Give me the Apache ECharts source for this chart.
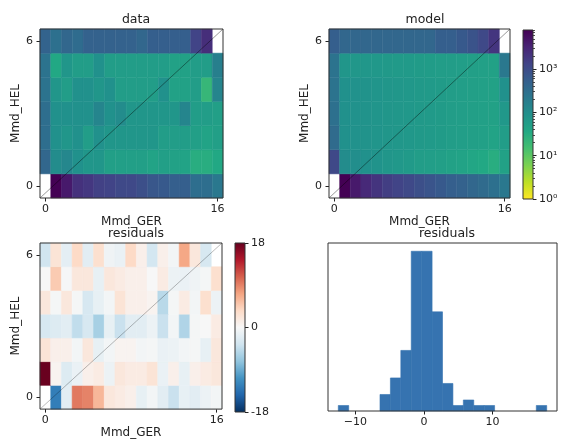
<!DOCTYPE html>
<html>
<head>
<meta charset="utf-8">
<script src="https://cdn.jsdelivr.net/npm/echarts@6/dist/echarts.min.js"></script>
<style>
  html, body { margin: 0; background: #fff; }
  #chart { width: 563px; height: 440px; }
</style>
</head>
<body>
<div id="chart"></div>
<script>
// grid columns (Mmd_GER) and rows (Mmd_HEL)
const cols = [0, 1, 2, 3, 4, 5, 6, 7, 8, 9, 10, 11, 12, 13, 14, 15, 16];
const rows = [0, 1, 2, 3, 4, 5, 6];
const xTicks = [0, 16];
const yTicks = [0, 6];

// observed counts, row 0 first (null = empty cell)
const dataCounts = [
  [null, 8000, 4270, 2280, 1900, 1450, 1330, 1110, 1110, 925, 710, 650, 540, 540, 315, 315, 220],
  [410, 107, 128, 89, 75, 75, 52, 52, 52, 52, 44, 52, 48, 44, 30, 30, 36],
  [315, 89, 75, 89, 57, 89, 75, 75, 75, 75, 75, 57, 57, 57, 52, 44, 52],
  [315, 89, 89, 89, 89, 140, 89, 107, 75, 75, 75, 75, 75, 140, 57, 57, 52],
  [263, 75, 57, 89, 89, 75, 89, 57, 57, 57, 57, 89, 48, 48, 57, 21, 140],
  [263, 36, 75, 57, 57, 89, 57, 57, 57, 57, 57, 57, 48, 48, 57, 57, 168],
  [460, 290, 410, 344, 493, 493, 493, 493, 493, 412, 540, 540, 540, 540, 1330, 2480, null]
];

// model counts
const modelCounts = [
  [null, 8000, 4270, 2800, 2070, 1580, 1330, 1110, 925, 770, 650, 540, 490, 410, 345, 290, 220],
  [1110, 107, 98, 89, 82, 75, 68, 62, 57, 54, 52, 48, 44, 40, 36, 30, 48],
  [345, 89, 85, 82, 78, 75, 71, 68, 65, 62, 60, 57, 54, 52, 50, 44, 57],
  [290, 89, 85, 82, 78, 75, 71, 68, 65, 62, 60, 57, 54, 52, 50, 48, 68],
  [263, 89, 85, 82, 78, 75, 71, 68, 65, 62, 60, 57, 54, 52, 50, 48, 89],
  [263, 75, 72, 70, 68, 66, 64, 62, 60, 58, 57, 55, 54, 52, 50, 48, 220],
  [540, 410, 410, 410, 410, 410, 410, 410, 410, 410, 540, 540, 650, 810, 1110, 2000, null]
];

// residuals
const residuals = [
  [null, -12.5, -2, 9.5, 9, 6, 2, 1.5, 1, -1.5, -0.5, -2, -4, -1.5, -2, -1, -0.5],
  [17.9, 0.5, -2.5, -1.2, 1, 1.5, -1, 2, 1.5, 1.5, 2.5, -1.2, 1, -1.5, 1, 1.5, 2],
  [2.5, 1, 1, -0.5, 2, -1.5, -0.5, 0.5, 0.5, -0.5, -0.3, -1.2, -1, -0.5, -0.3, -1.5, 2],
  [-3, -2.5, -2, -4.5, -3, -6, -1.5, -4, -2, -2, -1, -4, -0.5, -5.5, -0.3, 0, 1.5],
  [2, -0.3, 2, -0.3, -3, -1.5, -0.5, 2.5, 1, 1, 0.5, -5, -0.3, 1.5, -0.5, 3, -1],
  [0, 4.7, -0.2, 2, 2, -1.5, 2, 1.5, 1, 1, 0, 1.5, -1, -1.2, -0.8, -0.3, 3],
  [-3.6, 2.5, -1.8, 3.6, -2, 3, -0.8, -1.2, 3.6, 1, -3.3, 1, -0.5, 7, 2, -3, null]
];

// histogram of residuals
const histEdges = [-12.5, -10.98, -9.46, -7.94, -6.42, -4.9, -3.38, -1.86, -0.34, 1.18, 2.7,
  4.22, 5.74, 7.26, 8.78, 10.3, 11.82, 13.34, 14.86, 16.38, 17.9];
const histCounts = [1, 0, 0, 0, 3, 6, 11, 29, 29, 18, 5, 1, 2, 1, 1, 0, 0, 0, 0, 1];
const histXTicks = [-10, 0, 10];
const histXRange = [-14, 19.4];
const histYMax = 30.5;

// colour bars
const countRange = [1, 8000];
const countMajor = [1, 10, 100, 1000];
const countMinor = [2, 3, 4, 5, 6, 7, 8, 9, 20, 30, 40, 50, 60, 70, 80, 90,
  200, 300, 400, 500, 600, 700, 800, 900, 2000, 3000, 4000, 5000, 6000, 7000, 8000];
const residRange = [-18, 18];
const residTicks = [-18, 0, 18];

const diag = [[-0.5, -0.5], [16.5, 6.5]];

const viridis = ['#440154', '#482475', '#414487', '#355f8d', '#2a788e', '#21918c',
  '#22a884', '#44bf70', '#7ad151', '#bddf26', '#fde725'];
const rdbu = ['#053061', '#2166ac', '#4393c3', '#92c5de', '#d1e5f0', '#f7f7f7',
  '#fddbc7', '#f4a582', '#d6604d', '#b2182b', '#67001f'];

const font = 'DejaVu Sans';
const ink = '#222';
const sup = ['\u2070', '\u00b9', '\u00b2', '\u00b3', '\u2074'];

function cells(matrix, useLog) {
  const out = [];
  rows.forEach(r => cols.forEach(c => {
    const v = matrix[r][c];
    if (v == null) return;
    out.push([c, r, useLog ? Math.log10(v) : v]);
  }));
  return out;
}

function cellItem(params, api) {
  const x = api.value(0), y = api.value(1);
  const p0 = api.coord([x - 0.5, y + 0.5]);
  const p1 = api.coord([x + 0.5, y - 0.5]);
  const color = api.visual('color');
  return {
    type: 'rect',
    shape: { x: p0[0], y: p0[1], width: p1[0] - p0[0], height: p1[1] - p0[1] },
    style: { fill: color, stroke: color, lineWidth: 0.5 }
  };
}

function barItem(colors) {
  return function (params, api) {
    const p0 = api.coord([api.value(0), api.value(3)]);
    const p1 = api.coord([api.value(1), api.value(2)]);
    const stops = colors.slice().reverse().map((c, i) => ({ offset: i / (colors.length - 1), color: c }));
    return {
      type: 'rect',
      shape: { x: p0[0], y: p0[1], width: p1[0] - p0[0], height: p1[1] - p0[1] },
      style: { fill: new echarts.graphic.LinearGradient(0, 0, 0, 1, stops) }
    };
  };
}

function histItem(params, api) {
  if (!api.value(2)) return null;
  const p0 = api.coord([api.value(0), api.value(2)]);
  const p1 = api.coord([api.value(1), 0]);
  return {
    type: 'rect',
    shape: { x: p0[0], y: p0[1], width: p1[0] - p0[0], height: p1[1] - p0[1] },
    style: { fill: '#3673b0', stroke: '#3673b0', lineWidth: 0.6 }
  };
}

const label = { color: ink, fontFamily: font, fontSize: 11 };
const noLine = { show: false, onZero: false };

function heatX(gi) {
  return {
    gridIndex: gi, type: 'value', min: -0.5, max: 16.5,
    name: 'Mmd_GER', nameLocation: 'middle', nameGap: 15,
    nameTextStyle: { color: ink, fontFamily: font, fontSize: 12 },
    axisLine: noLine, splitLine: { show: false },
    axisTick: { customValues: xTicks, length: 3.5, lineStyle: { color: ink } },
    axisLabel: Object.assign({ customValues: xTicks, margin: 6 }, label)
  };
}
function heatY(gi) {
  return {
    gridIndex: gi, type: 'value', min: -0.5, max: 6.5,
    name: 'Mmd_HEL', nameLocation: 'middle', nameGap: 13,
    nameTextStyle: { color: ink, fontFamily: font, fontSize: 12 },
    axisLine: noLine, splitLine: { show: false },
    axisTick: { customValues: yTicks, length: 3.5, lineStyle: { color: ink } },
    axisLabel: Object.assign({ customValues: yTicks, margin: 7 }, label)
  };
}
const hiddenX = gi => ({ gridIndex: gi, type: 'value', min: 0, max: 1, show: false });

const frame = { show: true, z: 10, backgroundColor: 'transparent', borderColor: '#333', borderWidth: 1 };

const diagSeries = (gi, color) => ({
  type: 'line', xAxisIndex: gi, yAxisIndex: gi, data: diag, symbol: 'none', silent: true,
  lineStyle: { color: color, width: 0.9 }, z: 3
});

const title = (text, x, y) => ({
  text: text, left: x, top: y, textAlign: 'center',
  textStyle: { color: ink, fontFamily: font, fontSize: 12.5, fontWeight: 'normal' }
});

const chart = echarts.init(document.getElementById('chart'), null, { renderer: 'canvas' });
chart.setOption({
  animation: false,
  backgroundColor: '#fff',
  title: [
    title('data', 131, 8),
    title('model', 420, 8),
    title('residuals', 131, 222),
    title('residuals', 442, 222)
  ],
  grid: [
    Object.assign({ left: 40, top: 29, width: 183, height: 169 }, frame),
    Object.assign({ left: 329, top: 29, width: 181, height: 169 }, frame),
    Object.assign({ left: 523, top: 30, width: 10, height: 169 }, frame),
    Object.assign({ left: 40, top: 243, width: 182, height: 168 }, frame),
    Object.assign({ left: 235, top: 243, width: 10, height: 169 }, frame),
    Object.assign({ left: 328, top: 243, width: 229, height: 168 }, frame)
  ],
  xAxis: [
    heatX(0), heatX(1), hiddenX(2), heatX(3), hiddenX(4),
    {
      gridIndex: 5, type: 'value', min: histXRange[0], max: histXRange[1],
      axisLine: noLine, splitLine: { show: false },
      axisTick: { customValues: histXTicks, length: 3.5, lineStyle: { color: ink } },
      axisLabel: Object.assign({ customValues: histXTicks, margin: 6,
        formatter: v => String(v).replace('-', '\u2212') }, label)
    }
  ],
  yAxis: [
    heatY(0), heatY(1),
    {
      gridIndex: 2, type: 'log', logBase: 10, min: countRange[0], max: countRange[1], position: 'right', offset: 0,
      axisLine: noLine, splitLine: { show: false },
      axisTick: { customValues: countMajor, length: 3.5, lineStyle: { color: ink } },
      axisLabel: Object.assign({ customValues: countMajor, margin: 6,
        formatter: v => '10' + sup[Math.round(Math.log10(v))] }, label)
    },
    heatY(3),
    {
      gridIndex: 4, type: 'value', min: residRange[0], max: residRange[1], position: 'right',
      axisLine: noLine, splitLine: { show: false },
      axisTick: { customValues: residTicks, length: 3.5, lineStyle: { color: ink } },
      axisLabel: Object.assign({ customValues: residTicks, margin: 6 }, label)
    },
    { gridIndex: 5, type: 'value', min: 0, max: histYMax, show: false },
    {
      gridIndex: 2, type: 'log', logBase: 10, min: countRange[0], max: countRange[1], position: 'right', offset: 0,
      axisLine: noLine, splitLine: { show: false }, axisLabel: { show: false },
      axisTick: { customValues: countMinor, length: 2, lineStyle: { color: ink, width: 0.8 } }
    }
  ],
  visualMap: [
    { type: 'continuous', show: false, seriesIndex: [0, 2], dimension: 2,
      min: 0, max: Math.log10(countRange[1]), inRange: { color: viridis.slice().reverse() } },
    { type: 'continuous', show: false, seriesIndex: [5], dimension: 2,
      min: residRange[0], max: residRange[1], inRange: { color: rdbu } }
  ],
  series: [
    { type: 'custom', xAxisIndex: 0, yAxisIndex: 0, data: cells(dataCounts, true),
      encode: { x: 0, y: 1 }, renderItem: cellItem },
    diagSeries(0, 'rgba(0,0,0,0.45)'),
    { type: 'custom', xAxisIndex: 1, yAxisIndex: 1, data: cells(modelCounts, true),
      encode: { x: 0, y: 1 }, renderItem: cellItem },
    diagSeries(1, 'rgba(0,0,0,0.45)'),
    { type: 'custom', xAxisIndex: 2, yAxisIndex: 2, silent: true,
      data: [[0, 1, countRange[0], countRange[1]]], encode: { x: [0, 1], y: [2, 3] },
      renderItem: barItem(viridis.slice().reverse()) },
    { type: 'custom', xAxisIndex: 3, yAxisIndex: 3, data: cells(residuals, false),
      encode: { x: 0, y: 1 }, renderItem: cellItem },
    diagSeries(3, 'rgba(0,0,0,0.3)'),
    { type: 'custom', xAxisIndex: 4, yAxisIndex: 4, silent: true,
      data: [[0, 1, residRange[0], residRange[1]]], encode: { x: [0, 1], y: [2, 3] },
      renderItem: barItem(rdbu) },
    { type: 'custom', xAxisIndex: 5, yAxisIndex: 5,
      data: histCounts.map((n, i) => [histEdges[i], histEdges[i + 1], n]),
      encode: { x: [0, 1], y: 2 }, renderItem: histItem }
  ]
});
</script>
</body>
</html>
